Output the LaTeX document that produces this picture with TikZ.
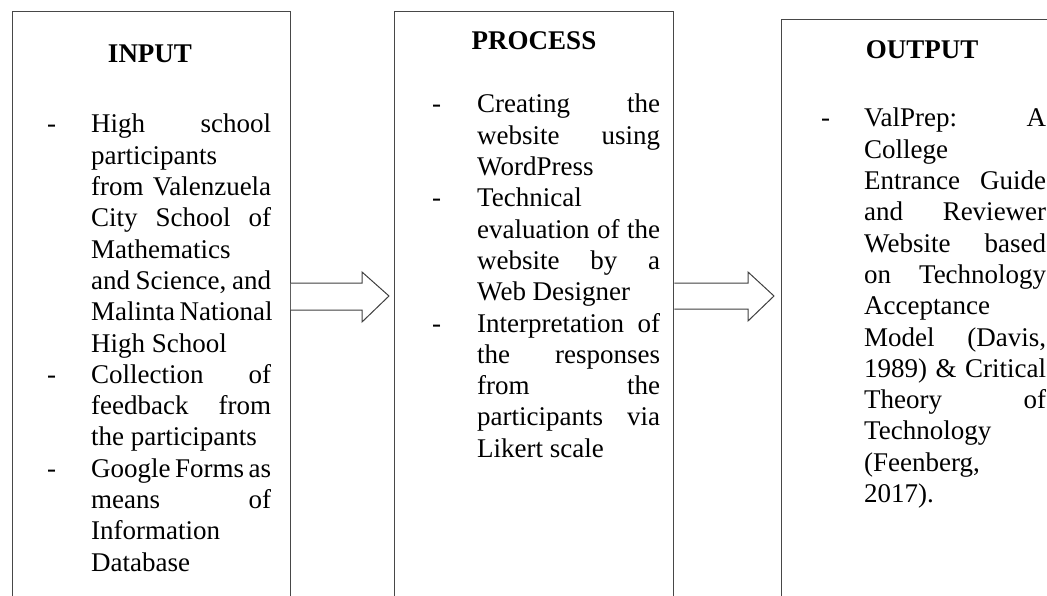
\documentclass[tikz,border=0pt]{standalone}
\usepackage{fontspec}
\setmainfont{Liberation Serif}
\newlength\tw
\newlength\dw
\newcommand\Dsh{\llap{\makebox[\dw][l]{-}}}
\newcommand\Jl[1]{\noindent\makebox[\tw][s]{#1}\par}
\newcommand\Ll[1]{\noindent #1\par}
\tikzset{
  box/.style={draw=black!72, line width=1.4pt, fill=none, inner sep=0pt, anchor=north west},
  title/.style={font=\fontsize{27}{31.3}\selectfont\bfseries, anchor=base, inner sep=0pt},
  body/.style={anchor=base west, inner sep=0pt, font=\fontsize{27}{31.3}\selectfont},
  blockarrow/.style={draw=black!75, line width=1pt, fill=white, line join=miter}
}
\begin{document}
\begin{tikzpicture}[x=1pt,y=-1pt]
\useasboundingbox (0,0) rectangle (1047,596);
\clip (0,0) rectangle (1047,596);
% boxes
\node[box, minimum width=278pt, minimum height=620pt] (inbox) at (11.5,11) {};
\node[box, minimum width=279.5pt, minimum height=620pt] (procbox) at (393.5,11) {};
\node[box, minimum width=300pt, minimum height=620pt] (outbox) at (780.5,19) {};
% titles
\node[title] (tin) at (150,63) {INPUT};
\node[title] (tproc) at (534,50) {PROCESS};
\node[title] (tout) at (922,59) {OUTPUT};
% input text
\node[body] (input) at (91,133) {\setlength\tw{180pt}\setlength\dw{44pt}\parbox[t]{\tw}{%
\Jl{\Dsh High school}
\Ll{participants}
\Jl{from Valenzuela}
\Jl{City School of}
\Ll{Mathematics}
\Jl{and Science, and}
\Jl{Malinta National}
\Ll{High School}
\Jl{\Dsh Collection of}
\Jl{feedback from}
\Ll{the participants}
\Jl{\Dsh Google Forms as}
\Jl{means of}
\Ll{Information}
\Ll{Database}}};
% process text
\node[body] (process) at (477,113) {\setlength\tw{183pt}\setlength\dw{45pt}\parbox[t]{\tw}{%
\Jl{\Dsh Creating the}
\Jl{website using}
\Ll{WordPress}
\Ll{\Dsh Technical}
\Jl{evaluation of the}
\Jl{website by a}
\Ll{Web Designer}
\Jl{\Dsh Interpretation of}
\Jl{the responses}
\Jl{from the}
\Jl{participants via}
\Ll{Likert scale}}};
% output text
\node[body] (output) at (864,127) {\setlength\tw{182pt}\setlength\dw{43pt}\parbox[t]{\tw}{%
\Jl{\Dsh ValPrep: A}
\Ll{College}
\Jl{Entrance Guide}
\Jl{and Reviewer}
\Jl{Website based}
\Jl{on Technology}
\Ll{Acceptance}
\Jl{Model (Davis,}
\Jl{1989) \& Critical}
\Jl{Theory of}
\Ll{Technology}
\Ll{(Feenberg,}
\Ll{2017).}}};
% block arrows
\coordinate (a1s) at (inbox.east |- 0,283);
\coordinate (a1t) at (389,296);
\draw[blockarrow] (a1s) -- (362,283) -- (362,272) -- (a1t) -- (362,322) -- (362,310) -- (a1s |- 0,310);
\coordinate (a2s) at (procbox.east |- 0,283);
\coordinate (a2t) at (774,296);
\draw[blockarrow] (a2s) -- (748,283) -- (748,272) -- (a2t) -- (748,321) -- (748,309) -- (a2s |- 0,309);
\end{tikzpicture}
\end{document}
